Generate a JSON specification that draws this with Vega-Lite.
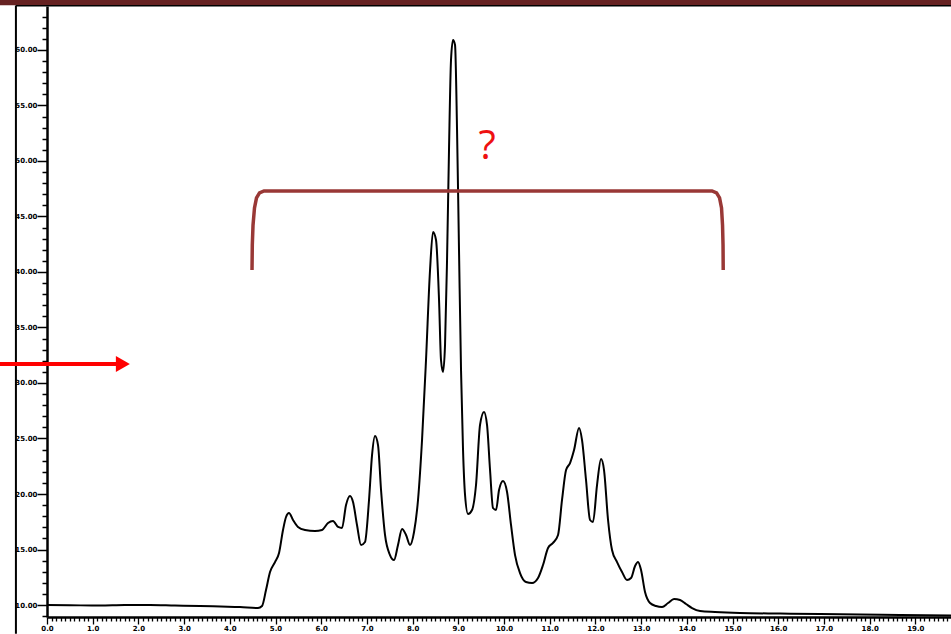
{
  "$schema": "https://vega.github.io/schema/vega-lite/v6.json",
  "width": 904,
  "height": 611,
  "autosize": "none",
  "padding": {"left": 47, "top": 6, "right": 0, "bottom": 17},
  "background": "white",
  "config": {"view": {"stroke": null}},
  "datasets": {
    "trace": [
      {"t": 0.000, "v": 10.00}, {"t": 0.500, "v": 9.98}, {"t": 1.160, "v": 9.95}, {"t": 1.700, "v": 10.00}, {"t": 2.254, "v": 10.00},
      {"t": 2.800, "v": 9.95}, {"t": 3.348, "v": 9.91}, {"t": 3.800, "v": 9.86}, {"t": 4.223, "v": 9.82}, {"t": 4.617, "v": 9.73},
      {"t": 4.705, "v": 9.91}, {"t": 4.792, "v": 11.35}, {"t": 4.880, "v": 12.97}, {"t": 4.989, "v": 13.87}, {"t": 5.077, "v": 14.68},
      {"t": 5.164, "v": 16.76}, {"t": 5.230, "v": 17.93}, {"t": 5.295, "v": 18.29}, {"t": 5.383, "v": 17.66}, {"t": 5.492, "v": 17.03},
      {"t": 5.646, "v": 16.76}, {"t": 5.864, "v": 16.67}, {"t": 6.018, "v": 16.76}, {"t": 6.149, "v": 17.39}, {"t": 6.258, "v": 17.57},
      {"t": 6.368, "v": 17.03}, {"t": 6.455, "v": 16.94}, {"t": 6.543, "v": 19.01}, {"t": 6.630, "v": 19.82}, {"t": 6.696, "v": 19.28},
      {"t": 6.783, "v": 17.21}, {"t": 6.871, "v": 15.41}, {"t": 6.958, "v": 15.68}, {"t": 7.046, "v": 19.46}, {"t": 7.112, "v": 23.51},
      {"t": 7.177, "v": 25.23}, {"t": 7.243, "v": 24.41}, {"t": 7.309, "v": 20.36}, {"t": 7.396, "v": 16.31}, {"t": 7.505, "v": 14.50},
      {"t": 7.593, "v": 14.05}, {"t": 7.680, "v": 15.41}, {"t": 7.768, "v": 16.85}, {"t": 7.856, "v": 16.31}, {"t": 7.943, "v": 15.41},
      {"t": 8.031, "v": 16.58}, {"t": 8.118, "v": 19.46}, {"t": 8.206, "v": 24.86}, {"t": 8.293, "v": 32.07}, {"t": 8.381, "v": 40.18},
      {"t": 8.446, "v": 43.60}, {"t": 8.512, "v": 42.88}, {"t": 8.578, "v": 37.48}, {"t": 8.621, "v": 32.07}, {"t": 8.665, "v": 30.99},
      {"t": 8.709, "v": 33.42}, {"t": 8.753, "v": 41.08}, {"t": 8.796, "v": 50.99}, {"t": 8.840, "v": 59.10}, {"t": 8.884, "v": 60.90},
      {"t": 8.928, "v": 60.45}, {"t": 8.972, "v": 52.79}, {"t": 9.015, "v": 41.98}, {"t": 9.059, "v": 31.17}, {"t": 9.103, "v": 23.96},
      {"t": 9.147, "v": 19.91}, {"t": 9.212, "v": 18.20}, {"t": 9.300, "v": 18.56}, {"t": 9.387, "v": 20.81}, {"t": 9.475, "v": 26.22},
      {"t": 9.562, "v": 27.39}, {"t": 9.628, "v": 26.22}, {"t": 9.694, "v": 22.16}, {"t": 9.759, "v": 18.74}, {"t": 9.825, "v": 18.56},
      {"t": 9.891, "v": 20.36}, {"t": 9.978, "v": 21.17}, {"t": 10.066, "v": 20.18}, {"t": 10.153, "v": 17.21}, {"t": 10.241, "v": 14.50},
      {"t": 10.350, "v": 12.88}, {"t": 10.481, "v": 12.07}, {"t": 10.613, "v": 11.98}, {"t": 10.744, "v": 12.43}, {"t": 10.853, "v": 13.60},
      {"t": 10.963, "v": 15.14}, {"t": 11.072, "v": 15.59}, {"t": 11.182, "v": 16.31}, {"t": 11.269, "v": 19.46}, {"t": 11.357, "v": 22.16},
      {"t": 11.444, "v": 22.79}, {"t": 11.532, "v": 23.96}, {"t": 11.641, "v": 25.95}, {"t": 11.707, "v": 24.86}, {"t": 11.794, "v": 21.26},
      {"t": 11.882, "v": 17.66}, {"t": 11.947, "v": 17.48}, {"t": 12.035, "v": 20.81}, {"t": 12.123, "v": 23.15}, {"t": 12.188, "v": 22.16},
      {"t": 12.276, "v": 17.66}, {"t": 12.363, "v": 14.95}, {"t": 12.473, "v": 13.87}, {"t": 12.582, "v": 12.97}, {"t": 12.691, "v": 12.25},
      {"t": 12.779, "v": 12.43}, {"t": 12.867, "v": 13.51}, {"t": 12.932, "v": 13.87}, {"t": 12.998, "v": 13.15}, {"t": 13.085, "v": 11.17},
      {"t": 13.195, "v": 10.18}, {"t": 13.326, "v": 9.91}, {"t": 13.457, "v": 9.82}, {"t": 13.589, "v": 10.18}, {"t": 13.720, "v": 10.54},
      {"t": 13.851, "v": 10.45}, {"t": 13.982, "v": 10.09}, {"t": 14.114, "v": 9.73}, {"t": 14.289, "v": 9.46}, {"t": 14.617, "v": 9.37},
      {"t": 15.164, "v": 9.28}, {"t": 16.039, "v": 9.23}, {"t": 16.915, "v": 9.19}, {"t": 17.790, "v": 9.14}, {"t": 18.665, "v": 9.10},
      {"t": 19.781, "v": 9.05}
    ],
    "brace": [
      {"i": 0, "t": 4.486, "v": 40.18}, {"i": 1, "t": 4.492, "v": 42.43}, {"i": 2, "t": 4.508, "v": 44.23}, {"i": 3, "t": 4.540, "v": 45.77},
      {"i": 4, "t": 4.584, "v": 46.68}, {"i": 5, "t": 4.650, "v": 47.12}, {"i": 6, "t": 4.748, "v": 47.30}, {"i": 7, "t": 14.551, "v": 47.30},
      {"i": 8, "t": 14.650, "v": 47.12}, {"i": 9, "t": 14.716, "v": 46.68}, {"i": 10, "t": 14.759, "v": 45.77}, {"i": 11, "t": 14.781, "v": 44.23},
      {"i": 12, "t": 14.792, "v": 42.43}, {"i": 13, "t": 14.796, "v": 40.18}
    ]
  },
  "layer": [
    {
      "data": {"values": [{"t1": -1.03, "t2": 19.8, "v1": 64.02, "v2": 64.6}]},
      "mark": {"type": "rect", "color": "#662222", "clip": false},
      "encoding": {
        "x": {"field": "t1", "type": "quantitative"},
        "x2": {"field": "t2"},
        "y": {"field": "v1", "type": "quantitative"},
        "y2": {"field": "v2"}
      }
    },
    {
      "data": {"values": [{"t1": -0.68, "t2": 19.8, "v": 63.98}]},
      "mark": {"type": "rule", "color": "black", "strokeWidth": 1.5, "clip": false},
      "encoding": {
        "x": {"field": "t1", "type": "quantitative"},
        "x2": {"field": "t2"},
        "y": {"field": "v", "type": "quantitative"}
      }
    },
    {
      "data": {"values": [{"t": -0.68, "v1": 64.0, "v2": 7.4}]},
      "mark": {"type": "rule", "color": "black", "strokeWidth": 2, "clip": false},
      "encoding": {
        "x": {"field": "t", "type": "quantitative"},
        "y": {"field": "v1", "type": "quantitative"},
        "y2": {"field": "v2"}
      }
    },
    {
      "data": {"name": "trace"},
      "mark": {"type": "line", "color": "black", "strokeWidth": 2, "interpolate": "monotone"},
      "encoding": {
        "x": {
          "field": "t", "type": "quantitative",
          "scale": {"domain": [0, 19.78], "nice": false, "zero": false},
          "axis": {
            "title": null, "orient": "bottom", "grid": false,
            "tickCount": 200,
            "labelOverlap": false,
            "labelExpr": "abs(datum.value - round(datum.value)) < 0.01 ? format(datum.value, '.1f') : ''",
            "tickSize": {"condition": {"test": "abs(datum.value - round(datum.value)) < 0.01", "value": 7}, "value": 4},
            "domainColor": "black", "domainWidth": 2.5,
            "tickColor": "black", "tickWidth": 1.3,
            "labelFont": "DejaVu Sans", "labelFontSize": 7, "labelFontWeight": "bold",
            "labelColor": "black", "labelPadding": 0, "labelFlush": false
          }
        },
        "y": {
          "field": "v", "type": "quantitative",
          "scale": {"domain": [8.92, 63.96], "nice": false, "zero": false},
          "axis": {
            "title": null, "orient": "left", "grid": false,
            "tickCount": 56,
            "labelOverlap": false,
            "labelExpr": "abs(datum.value / 5 - round(datum.value / 5)) < 0.01 ? format(datum.value, '.2f') : ''",
            "tickSize": {"condition": {"test": "abs(datum.value / 5 - round(datum.value / 5)) < 0.01", "value": 10}, "value": 5},
            "domainColor": "black", "domainWidth": 2.5,
            "tickColor": "black", "tickWidth": 1.5,
            "labelFont": "DejaVu Sans", "labelFontSize": 7, "labelFontWeight": "bold",
            "labelColor": "black", "labelPadding": 0, "labelFlush": false
          }
        }
      }
    },
    {
      "data": {"name": "brace"},
      "mark": {"type": "line", "color": "#993836", "strokeWidth": 3.5, "interpolate": "linear"},
      "encoding": {
        "x": {"field": "t", "type": "quantitative"},
        "y": {"field": "v", "type": "quantitative"},
        "order": {"field": "i", "type": "quantitative"}
      }
    },
    {
      "data": {"values": [{"t": 9.628, "v": 51.3, "s": "?"}]},
      "mark": {"type": "text", "color": "#ee1111", "fontSize": 40, "font": "Open Sans", "align": "center", "baseline": "middle"},
      "encoding": {
        "x": {"field": "t", "type": "quantitative"},
        "y": {"field": "v", "type": "quantitative"},
        "text": {"field": "s"}
      }
    },
    {
      "data": {"values": [{"t1": -1.03, "t2": 1.55, "v": 31.71}]},
      "mark": {"type": "rule", "color": "#ff0000", "strokeWidth": 4, "clip": false},
      "encoding": {
        "x": {"field": "t1", "type": "quantitative"},
        "x2": {"field": "t2"},
        "y": {"field": "v", "type": "quantitative"}
      }
    },
    {
      "data": {"values": [{"t": 1.66, "v": 31.71}]},
      "mark": {"type": "point", "shape": "triangle-right", "filled": true, "color": "#ff0000", "size": 260, "opacity": 1, "clip": false},
      "encoding": {
        "x": {"field": "t", "type": "quantitative"},
        "y": {"field": "v", "type": "quantitative"}
      }
    }
  ]
}
